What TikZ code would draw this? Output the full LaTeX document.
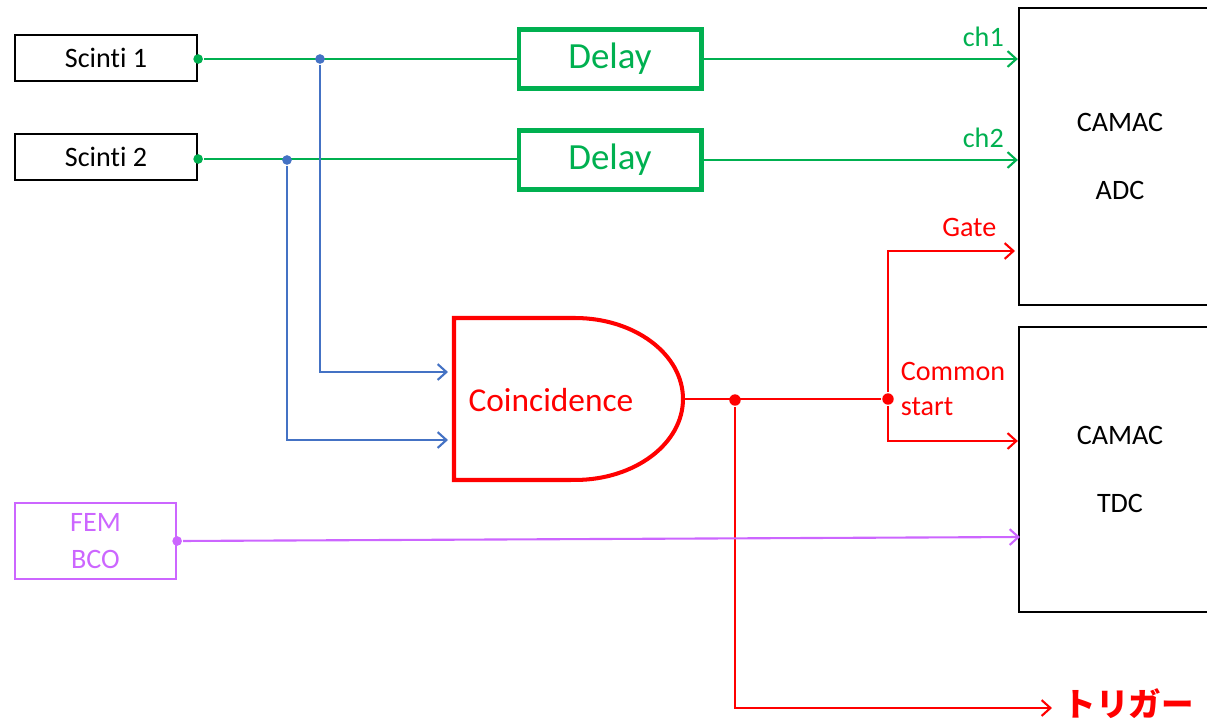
\documentclass[tikz,border=0pt]{standalone}
\usepackage{fontspec}
\setmainfont{Carlito}[Ligatures=NoCommon]
\newfontfamily\jpfont{Noto Sans CJK JP}
\usetikzlibrary{arrows.meta}
\definecolor{sigGreen}{RGB}{0,176,80}
\definecolor{sigBlue}{RGB}{68,114,196}
\definecolor{sigRed}{RGB}{255,0,0}
\definecolor{sigViolet}{RGB}{204,102,255}

\begin{document}
\begin{tikzpicture}[x=0.02cm,y=-0.02cm,
    >={Straight Barb[length=5pt,width=9pt]},
    dot/.style={circle,fill,inner sep=0pt,minimum size=6.5pt},
    wire/.style={line width=1.2pt}]
  \useasboundingbox (0,0) rectangle (1207,721);

  % detectors and modules
  \begin{scope}[every node/.style={draw,line width=1.3pt,font=\fontsize{16}{19}\selectfont,
      minimum width=3.64cm,minimum height=0.92cm}]
    \node (s1) at (106,58) {Scinti 1};
    \node (s2) at (106,157) {Scinti 2};
  \end{scope}

  \begin{scope}[every node/.style={draw=sigGreen,text=sigGreen,line width=2.3pt,
      font=\fontsize{21}{24}\selectfont,minimum width=3.66cm,minimum height=1.18cm}]
    \node (d1) at (610,59) {\raisebox{-2pt}{Delay}};
    \node (d2) at (610,160) {\raisebox{-2pt}{Delay}};
  \end{scope}

  \begin{scope}[every node/.style={draw,line width=1.3pt,align=center,
      font=\fontsize{16}{39}\selectfont,minimum width=4.04cm}]
    \node[minimum height=5.94cm] (adc) at (1120,156.5) {CAMAC\\ADC};
    \node[minimum height=5.70cm] (tdc) at (1120,469.5) {CAMAC\\TDC};
  \end{scope}

  \node[draw=sigViolet,text=sigViolet,line width=1.3pt,align=center,
    font=\fontsize{16}{21}\selectfont,minimum width=3.22cm,minimum height=1.52cm]
    (fem) at (95.5,541) {FEM\\BCO};

  % coincidence unit
  \draw[sigRed,line width=2.3pt] (454,318) -- (575,318)
    arc[start angle=90,end angle=-90,x radius=2.16cm,y radius=1.62cm]
    -- (454,480) -- cycle;
  \node[text=sigRed,font=\fontsize{19}{22}\selectfont] (coin) at (551,400) {Coincidence};
  \coordinate (cin1) at (448,372);
  \coordinate (cin2) at (448,440);
  \coordinate (cout) at (683,399);

  % green signal lines
  \begin{scope}[sigGreen,wire]
    \node[dot,minimum size=5.5pt] (o1) at (s1.east |- 0,59) {};
    \node[dot,minimum size=5.5pt] (o2) at (s2.east |- 0,159) {};
    \draw (o1) -- (o1 -| d1.west);
    \draw (o2) -- (o2 -| d2.west);
    \draw[->] (d1.east) -- (d1.east -| adc.west)
      node[pos=0.89,above=3pt,font=\fontsize{16}{19}\selectfont] {ch1};
    \draw[->] (d2.east) -- (d2.east -| adc.west)
      node[pos=0.89,above=3pt,font=\fontsize{16}{19}\selectfont] {ch2};
  \end{scope}

  % blue taps to the coincidence
  \begin{scope}[sigBlue,wire]
    \node[dot,minimum size=5.5pt] (j1) at (320,59) {};
    \node[dot,minimum size=5.5pt] (j2) at (287,160) {};
    \draw[->] (j1) |- (cin1);
    \draw[->] (j2) |- (cin2);
  \end{scope}

  % coincidence output
  \begin{scope}[sigRed,wire]
    \node[dot] (split) at (735,400) {};
    \node[dot] (fork) at (888,399) {};
    \coordinate (gate) at (1015,251);
    \coordinate (trig) at (1052,708);
    \draw (cout) -- (fork);
    \draw[->] (fork) |- (gate)
      node[pos=0.82,above=4pt,font=\fontsize{16}{19}\selectfont] {Gate};
    \draw[->] (fork) |- (fork |- 0,441) -- (fork |- 0,441 -| tdc.west);
    \draw[->] (split) |- (trig);
    \node[anchor=west,align=left,font=\fontsize{16}{19.5}\selectfont] (cs) at (894,389) {Common\\start};
    \node[anchor=base west,inner sep=2pt,xshift=4pt,yshift=-5pt,
      font=\jpfont\bfseries\fontsize{18.5}{22}\selectfont] (trigtxt) at (trig) {トリガー};
  \end{scope}

  % BCO clock
  \begin{scope}[sigViolet,wire]
    \node[dot,minimum size=5.5pt] (fo) at (fem.east) {};
    \coordinate (tdcin) at (1020,537);
    \draw[->] (fo) -- (tdcin);
  \end{scope}
\end{tikzpicture}
\end{document}
